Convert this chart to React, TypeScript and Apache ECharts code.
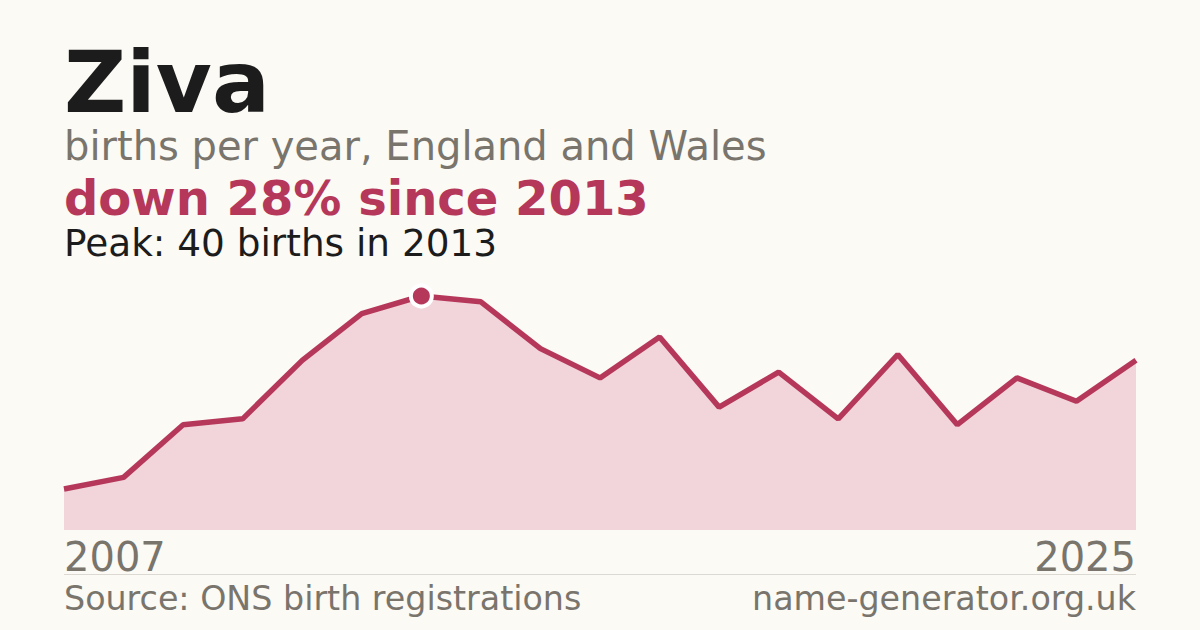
import * as echarts from "echarts";
import React, { useEffect, useRef } from "react";

const years = [
  "2007", "2008", "2009", "2010", "2011", "2012", "2013", "2014", "2015", "2016",
  "2017", "2018", "2019", "2020", "2021", "2022", "2023", "2024", "2025",
];
const births = [7, 9, 18, 19, 29, 37, 40, 39, 31, 26, 33, 21, 27, 19, 30, 18, 26, 22, 29];

const nameTitle = "Ziva";
const subtitle = "births per year, England and Wales";
const trendText = "down 28% since 2013";
const peakText = "Peak: 40 births in 2013";
const sourceText = "Source: ONS birth registrations";
const siteText = "name-generator.org.uk";

const FONT = "DejaVu Sans";
const RED = "#b5385a";
const GRAY = "#79746c";

const App: React.FC = () => {
  const chartRef = useRef<HTMLDivElement | null>(null);

  useEffect(() => {
    const chart = echarts.init(chartRef.current, null, { renderer: "svg" });
    chart.setOption({
      animation: false,
      backgroundColor: "#fbfaf5",
      grid: { left: 64, right: 64, top: 296, bottom: 100 },
      xAxis: {
        type: "category",
        data: years,
        boundaryGap: false,
        axisLine: { show: false },
        axisTick: { show: false },
        axisLabel: {
          interval: (i: number) => i === 0 || i === years.length - 1,
          alignMinLabel: "left",
          alignMaxLabel: "right",
          fontFamily: FONT,
          fontSize: 40,
          color: GRAY,
          margin: 7,
          verticalAlign: "top",
        },
      },
      yAxis: {
        type: "value",
        min: 0,
        max: 40,
        show: false,
        splitLine: { show: false },
      },
      series: [
        {
          type: "line",
          data: births,
          clip: false,
          showSymbol: false,
          lineStyle: { color: RED, width: 5.5 },
          areaStyle: { color: "#f2d5da", opacity: 1 },
          markPoint: {
            data: [{ type: "max" }],
            symbol: "circle",
            symbolSize: 21,
            itemStyle: { color: RED, borderColor: "#ffffff", borderWidth: 4 },
            label: { show: false },
          },
        },
      ],
      graphic: [
        {
          type: "text",
          left: 64,
          top: 39,
          style: { text: nameTitle, font: `bold 86px "${FONT}"`, fill: "#1c1c1c" },
        },
        {
          type: "text",
          left: 64,
          top: 126,
          style: { text: subtitle, font: `40px "${FONT}"`, fill: GRAY },
        },
        {
          type: "text",
          left: 64,
          top: 174,
          style: { text: trendText, font: `bold 48px "${FONT}"`, fill: RED, lineHeight: 46 },
        },
        {
          type: "text",
          left: 64,
          top: 224,
          style: { text: peakText, font: `37.4px "${FONT}"`, fill: "#1c1c1c", lineHeight: 35 },
        },
        {
          type: "line",
          shape: { x1: 64, y1: 574.5, x2: 1136, y2: 574.5 },
          style: { stroke: "#dcd9d2", lineWidth: 1 },
        },
        {
          type: "text",
          left: 64,
          top: 582,
          style: { text: sourceText, font: `33.3px "${FONT}"`, fill: GRAY },
        },
        {
          type: "text",
          right: 64,
          top: 582,
          style: { text: siteText, font: `33.3px "${FONT}"`, fill: GRAY },
        },
      ],
    });

    return () => {
      chart.dispose();
    };
  }, []);

  return (
    <div
      ref={chartRef}
      style={{ position: "fixed", left: 0, top: 0, width: "1200px", height: "630px" }}
    ></div>
  );
};

export default App;
